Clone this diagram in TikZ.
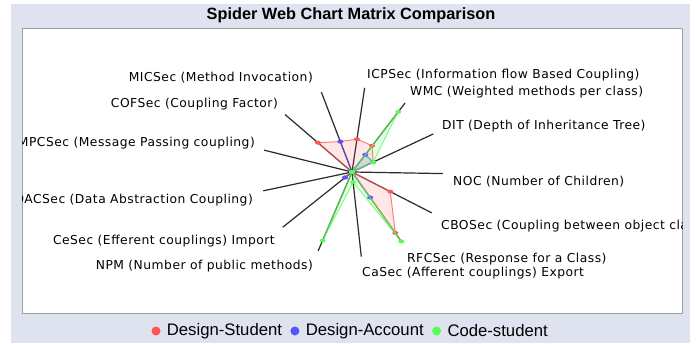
\documentclass[tikz,border=0pt]{standalone}
\usepackage{fontspec}
\setmainfont{Liberation Sans}
\newfontfamily\axisfont[LetterSpace=4]{DejaVu Sans}
\usetikzlibrary{positioning}
\definecolor{panelbg}{HTML}{DEE3EF}
\definecolor{plotframe}{HTML}{A0A0A0}
\definecolor{axisline}{HTML}{2A2A2A}
\definecolor{serA}{HTML}{FF5555}
\definecolor{serB}{HTML}{5555FF}
\definecolor{serC}{HTML}{55FF55}
% one series of the web: name, colour, 13 values (ICP, WMC, DIT, NOC, CBO, RFC, Ca, NPM, Ce, DAC, MPC, COF, MIC)
\newcommand\webseries[3]{%
  \foreach \v [count=\i from 0] in {#3}
    \coordinate (#1\i) at ({82-27.69*\i}:{91*\v} and {85*\v});
  \fill[#2,fill opacity=.14] (#10) \foreach \i in {1,...,12}{-- (#1\i)} -- cycle;
  \draw[#2,draw opacity=.75,line width=1pt] (#10) \foreach \i in {1,...,12}{-- (#1\i)} -- cycle;
  \foreach \i in {0,...,12} \fill[#2] (#1\i) ellipse (3 and 2);
}

\begin{document}
\begin{tikzpicture}[x=1pt,y=1pt,
  axislabel/.style={font=\axisfont\fontsize{12.3}{14}\selectfont,inner sep=0pt},
  legdot/.style={circle,inner sep=0pt,minimum size=9pt},
  legtext/.style={font=\fontsize{16.7}{19}\selectfont,inner sep=0pt}]
\useasboundingbox (0,0) rectangle (696,343);
\fill[panelbg] (11,0) rectangle (690,339);
\fill[white] (22,30) rectangle (682,314);
\draw[plotframe,line width=1pt] (22,30) rectangle (682,314);
\node[font=\bfseries\fontsize{16.3}{18}\selectfont] (title) at (351,328) {Spider Web Chart Matrix Comparison};
\begin{scope}
  \clip (22,30) rectangle (682,314);
  \begin{scope}[shift={(352,171)}]
    \foreach \k in {0,...,12}
      \draw[axisline,line width=1.2pt] (0,0) -- ({82-27.69*\k}:91 and 85);
    \webseries{A}{serA}{0.39,0.38,0.26,0,0.48,0.86,0,0,0.1,0,0,0.51,0.38}
    \webseries{B}{serB}{0,0.25,0.26,0,0,0.36,0,0,0.1,0,0,0,0.38}
    \webseries{C}{serC}{0,0.87,0.26,0,0,0.98,0.12,0.87,0,0,0,0,0}
  \end{scope}
  \node[axislabel,anchor=west] (lICP) at (367,268) {ICPSec (Information flow Based Coupling)};
  \node[axislabel,anchor=west] (lWMC) at (410,251) {WMC (Weighted methods per class)};
  \node[axislabel,anchor=west] (lDIT) at (442,217) {DIT (Depth of Inheritance Tree)};
  \node[axislabel,anchor=west] (lNOC) at (453,161) {NOC (Number of Children)};
  \node[axislabel,anchor=west] (lCBO) at (441,117) {CBOSec (Coupling between object classes)};
  \node[axislabel,anchor=west] (lRFC) at (407,84) {RFCSec (Response for a Class)};
  \node[axislabel,anchor=west] (lCa) at (362,70) {CaSec (Afferent couplings) Export};
  \node[axislabel,anchor=east] (lNPM) at (313,77) {NPM (Number of public methods)};
  \node[axislabel,anchor=east] (lCe) at (275,102) {CeSec (Efferent couplings) Import};
  \node[axislabel,anchor=east] (lDAC) at (253,143) {DACSec (Data Abstraction Coupling)};
  \node[axislabel,anchor=east] (lMPC) at (255,200) {MPCSec (Message Passing coupling)};
  \node[axislabel,anchor=east] (lCOF) at (278,239) {COFSec (Coupling Factor)};
  \node[axislabel,anchor=east] (lMIC) at (313,265) {MICSec (Method Invocation)};
\end{scope}
\node[legdot,fill=serA] (dotA) at (156,12) {};
\node[legtext,right=6pt of dotA] (legA) {Design-Student};
\node[legdot,fill=serB,right=8pt of legA] (dotB) {};
\node[legtext,right=6pt of dotB] (legB) {Design-Account};
\node[legdot,fill=serC,right=8pt of legB] (dotC) {};
\node[legtext,right=6pt of dotC] (legC) {Code-student};
\end{tikzpicture}
\end{document}
